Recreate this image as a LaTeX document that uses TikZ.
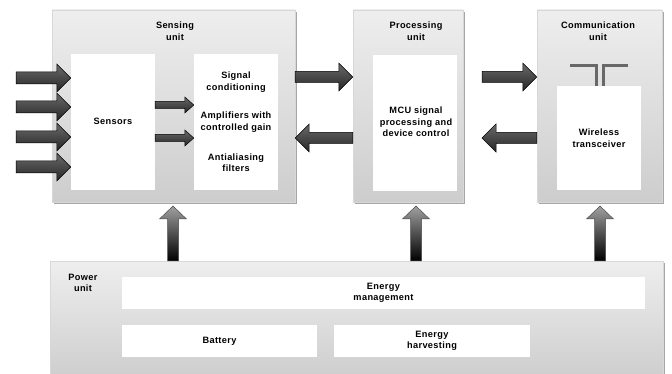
\documentclass[tikz,border=0pt]{standalone}
\usepackage{fontspec}
\setmainfont{Liberation Sans}[LetterSpace=4]
\usetikzlibrary{calc,shadows}
\definecolor{boxtop}{HTML}{EEEEEE}
\definecolor{boxbot}{HTML}{CDCDCD}
\definecolor{boxshadow}{HTML}{A6A6A6}
\definecolor{harrtop}{HTML}{6A6A6A}
\definecolor{harrbot}{HTML}{262626}
\definecolor{varrtop}{HTML}{A0A0A0}
\definecolor{varrbot}{HTML}{000000}
\definecolor{antcol}{HTML}{686868}
\newcommand\blkR[6]{% start, tip, shaft half, head half, head length, style
  \path[#6] let \p1=(#1), \p2=(#2) in
   (\x1,\y1+#3) -- (\x2-#5,\y1+#3) -- (\x2-#5,\y1+#4) -- (\x2,\y1)
   -- (\x2-#5,\y1-#4) -- (\x2-#5,\y1-#3) -- (\x1,\y1-#3) -- cycle;}
\newcommand\blkL[6]{%
  \path[#6] let \p1=(#1), \p2=(#2) in
   (\x1,\y1+#3) -- (\x2+#5,\y1+#3) -- (\x2+#5,\y1+#4) -- (\x2,\y1)
   -- (\x2+#5,\y1-#4) -- (\x2+#5,\y1-#3) -- (\x1,\y1-#3) -- cycle;}
\newcommand\blkU[6]{%
  \path[#6] let \p1=(#1), \p2=(#2) in
   (\x1+#3,\y1) -- (\x1+#3,\y2-#5) -- (\x1+#4,\y2-#5) -- (\x1,\y2)
   -- (\x1-#4,\y2-#5) -- (\x1-#3,\y2-#5) -- (\x1-#3,\y1) -- cycle;}
\tikzset{
  unitbox/.style={draw=boxtop!80!gray, line width=0.4pt, top color=boxtop, bottom color=boxbot,
    general shadow={fill=boxshadow, shadow xshift=2pt, shadow yshift=-2pt},
    inner sep=0pt},
  whitebox/.style={fill=white, draw=none, inner sep=0pt},
  lbl/.style={font=\bfseries\fontsize{9.2}{11.5}\selectfont, align=center, inner sep=0pt, text=black},
  harr/.style={top color=harrtop, bottom color=harrbot, draw=black, line width=0.5pt},
  varr/.style={top color=varrtop, bottom color=varrbot, draw=black!70, line width=0.5pt},
  antenna/.style={draw=antcol, line width=3pt},
}
\begin{document}
\begin{tikzpicture}[x=1pt,y=-1pt]
\useasboundingbox (0,0) rectangle (672,374);
% units
\node[unitbox, minimum width=243, minimum height=192] (sense) at (173.5,106) {};
\node[unitbox, minimum width=110, minimum height=192] (proc) at (408,106) {};
\node[unitbox, minimum width=125, minimum height=192] (comm) at (599.5,106) {};
\node[unitbox, minimum width=613, minimum height=120] (power) at (356.5,321) {};
% inner boxes
\node[whitebox, minimum width=84, minimum height=136] (sensors) at (113,122) {};
\node[whitebox, minimum width=84, minimum height=136] (signal) at (236,122) {};
\node[whitebox, minimum width=84, minimum height=136] (mcu) at (415,123) {};
\node[whitebox, minimum width=84, minimum height=104] (wireless) at (599,138) {};
\node[whitebox, minimum width=523, minimum height=32] (emgmt) at (383.5,293) {};
\node[whitebox, minimum width=195, minimum height=32] (battery) at (219.5,341) {};
\node[whitebox, minimum width=196, minimum height=32] (harvest) at (432,341) {};
% titles
\node[lbl] (tsense) at (175,31) {Sensing\\unit};
\node[lbl] (tproc) at (416,31) {Processing\\unit};
\node[lbl] (tcomm) at (598,31) {Communication\\unit};
\node[lbl] (tpower) at (83,283) {Power\\unit};
% texts
\node[lbl] (xsensors) at (113,121) {Sensors};
\node[lbl] (xsig1) at (236,82) {Signal\\conditioning};
\node[lbl] (xsig2) at (236,122) {Amplifiers with\\controlled gain};
\node[lbl] (xsig3) at (236,162.5) {Antialiasing\\filters};
\node[lbl] (xmcu) at (416,122) {MCU signal\\processing and\\device control};
\node[lbl] (xwire) at (599,138) {Wireless\\transceiver};
\node[lbl] (xemgmt) at (383.5,293) {Energy\\management};
\node[lbl] (xbatt) at (219.5,341) {Battery};
\node[lbl] (xharv) at (432,341) {Energy\\harvesting};
% antenna
\coordinate (antL) at (570,66);
\coordinate (antR) at (628,66);
\draw[antenna] (antL) -- (596,66) -- (596,0 |- wireless.north);
\draw[antenna] (antR) -- (603,66) -- (603,0 |- wireless.north);
% input arrows
\foreach \yy [count=\i] in {78,107,137,167} {
  \coordinate (in\i) at (16,\yy);
  \blkR{in\i}{sensors.west}{6pt}{14pt}{14pt}{harr}
}
% internal arrows
\coordinate (ia1) at (sensors.east |- 0,105);
\coordinate (ia2) at (sensors.east |- 0,138);
\blkR{ia1}{signal.west}{3.5pt}{8pt}{9pt}{harr}
\blkR{ia2}{signal.west}{3.5pt}{8pt}{9pt}{harr}
% between units
\coordinate (sp1) at (sense.east |- 0,77);
\blkR{sp1}{proc.west}{5.5pt}{14pt}{14pt}{harr}
\coordinate (ps1) at (proc.west |- 0,138);
\blkL{ps1}{sense.east}{5.5pt}{14pt}{14pt}{harr}
\coordinate (pc1) at (482,77);
\blkR{pc1}{comm.west}{5.5pt}{14pt}{14pt}{harr}
\coordinate (cp1) at (comm.west |- 0,138);
\coordinate (cp2) at (482,138);
\blkL{cp1}{cp2}{5.5pt}{14pt}{14pt}{harr}
% power arrows
\coordinate (pw1) at (power.north -| 173,0);
\coordinate (pw2) at (power.north -| 416,0);
\coordinate (pw3) at (power.north -| 600,0);
\coordinate (t1) at (173,206);
\coordinate (t2) at (416,206);
\coordinate (t3) at (600,206);
\blkU{pw1}{t1}{5.5pt}{13.5pt}{13pt}{varr}
\blkU{pw2}{t2}{5.5pt}{13.5pt}{13pt}{varr}
\blkU{pw3}{t3}{5.5pt}{13.5pt}{13pt}{varr}
\end{tikzpicture}
\end{document}
